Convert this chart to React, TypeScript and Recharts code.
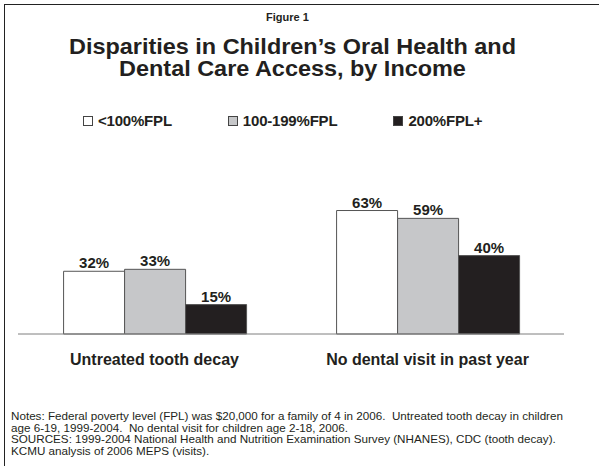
import React from "react";
import { BarChart, Bar, XAxis, YAxis, LabelList, Legend } from "recharts";

const categories = ["Untreated tooth decay", "No dental visit in past year"];
const below100 = [32, 63];
const from100to199 = [33, 59];
const above200 = [15, 40];
const seriesNames = ["<100%FPL", "100-199%FPL", "200%FPL+"];

const data = categories.map((category, i) => ({
  category,
  low: below100[i],
  mid: from100to199[i],
  high: above200[i],
}));

const FONT = "'Liberation Sans', Arial, Helvetica, sans-serif";
const INK = "#231f20";
const COLORS = { low: "#ffffff", mid: "#c6c7c9", high: "#231f20" };

const pct = (v: number) => `${v}%`;
const labelStyle = { fontSize: 15, fontWeight: 700, fill: INK, fontFamily: FONT };

const CategoryTick = (props: any) => {
  const { x, y, payload } = props;
  return (
    <text x={x} y={y} dy={23} textAnchor="middle" fontSize={16} fontWeight={700} fill={INK} fontFamily={FONT}>
      {payload.value}
    </text>
  );
};

const LegendBox = () => {
  const fills = [COLORS.low, COLORS.mid, COLORS.high];
  return (
    <div style={{ display: "flex", gap: 56, paddingLeft: 83, alignItems: "center", fontFamily: FONT }}>
      {seriesNames.map((name, i) => (
        <div key={name} style={{ display: "flex", alignItems: "center" }}>
          <span style={{ width: 8, height: 8, background: fills[i], border: "1px solid #444", display: "inline-block", marginRight: 5 }} />
          <span style={{ fontSize: 15, fontWeight: 700, color: INK, letterSpacing: -0.2 }}>{name}</span>
        </div>
      ))}
    </div>
  );
};

export default function App() {
  return (
    <div style={{ position: "absolute", left: 0, top: 0, width: 599, height: 466, background: "#fff", overflow: "hidden", fontFamily: FONT }}>
      <div style={{ position: "absolute", left: 4, top: 4, width: 700, height: 600, borderTop: "1.5px solid #222", borderLeft: "1.5px solid #222" }} />
      <div style={{ position: "absolute", left: 0, width: 575, top: 11, textAlign: "center", fontSize: 11, fontWeight: 700, color: INK, lineHeight: "12px" }}>
        Figure 1
      </div>
      <div style={{ position: "absolute", left: 0, width: 585, top: 36, textAlign: "center", fontSize: 22, fontWeight: 700, color: INK, lineHeight: "22.3px", transform: "scaleX(1.065)", transformOrigin: "center" }}>
        <div>Disparities in Children’s Oral Health and</div>
        <div>Dental Care Access, by Income</div>
      </div>

      <BarChart width={599} height={466} data={data} barCategoryGap="16.7%" barGap={0} margin={{ top: 121, right: 35, bottom: 92, left: 18 }}>
        <YAxis hide domain={[0, 100]} />
        <XAxis dataKey="category" height={40} tickLine={false} axisLine={{ stroke: "#7f7f7f", strokeWidth: 1 }} tick={<CategoryTick />} interval={0} />
        <Legend verticalAlign="top" content={<LegendBox />} wrapperStyle={{ top: 112, left: 0, width: 599 }} />
        <Bar dataKey="low" name={seriesNames[0]} fill={COLORS.low} stroke="#555" strokeWidth={1} isAnimationActive={false}>
          <LabelList dataKey="low" position="top" offset={3} formatter={pct} style={labelStyle} />
        </Bar>
        <Bar dataKey="mid" name={seriesNames[1]} fill={COLORS.mid} stroke="#555" strokeWidth={1} isAnimationActive={false}>
          <LabelList dataKey="mid" position="top" offset={3} formatter={pct} style={labelStyle} />
        </Bar>
        <Bar dataKey="high" name={seriesNames[2]} fill={COLORS.high} stroke="#555" strokeWidth={1} isAnimationActive={false}>
          <LabelList dataKey="high" position="top" offset={3} formatter={pct} style={labelStyle} />
        </Bar>
      </BarChart>

      <div style={{ position: "absolute", left: 11, top: 411, fontSize: 10.5, lineHeight: "11.5px", color: INK, whiteSpace: "pre", transform: "scaleX(1.11)", transformOrigin: "left top" }}>
        <div>Notes: Federal poverty level (FPL) was $20,000 for a family of 4 in 2006.  Untreated tooth decay in children</div>
        <div>age 6-19, 1999-2004.  No dental visit for children age 2-18, 2006.</div>
        <div>SOURCES: 1999-2004 National Health and Nutrition Examination Survey (NHANES), CDC (tooth decay).</div>
        <div>KCMU analysis of 2006 MEPS (visits).</div>
      </div>
    </div>
  );
}
